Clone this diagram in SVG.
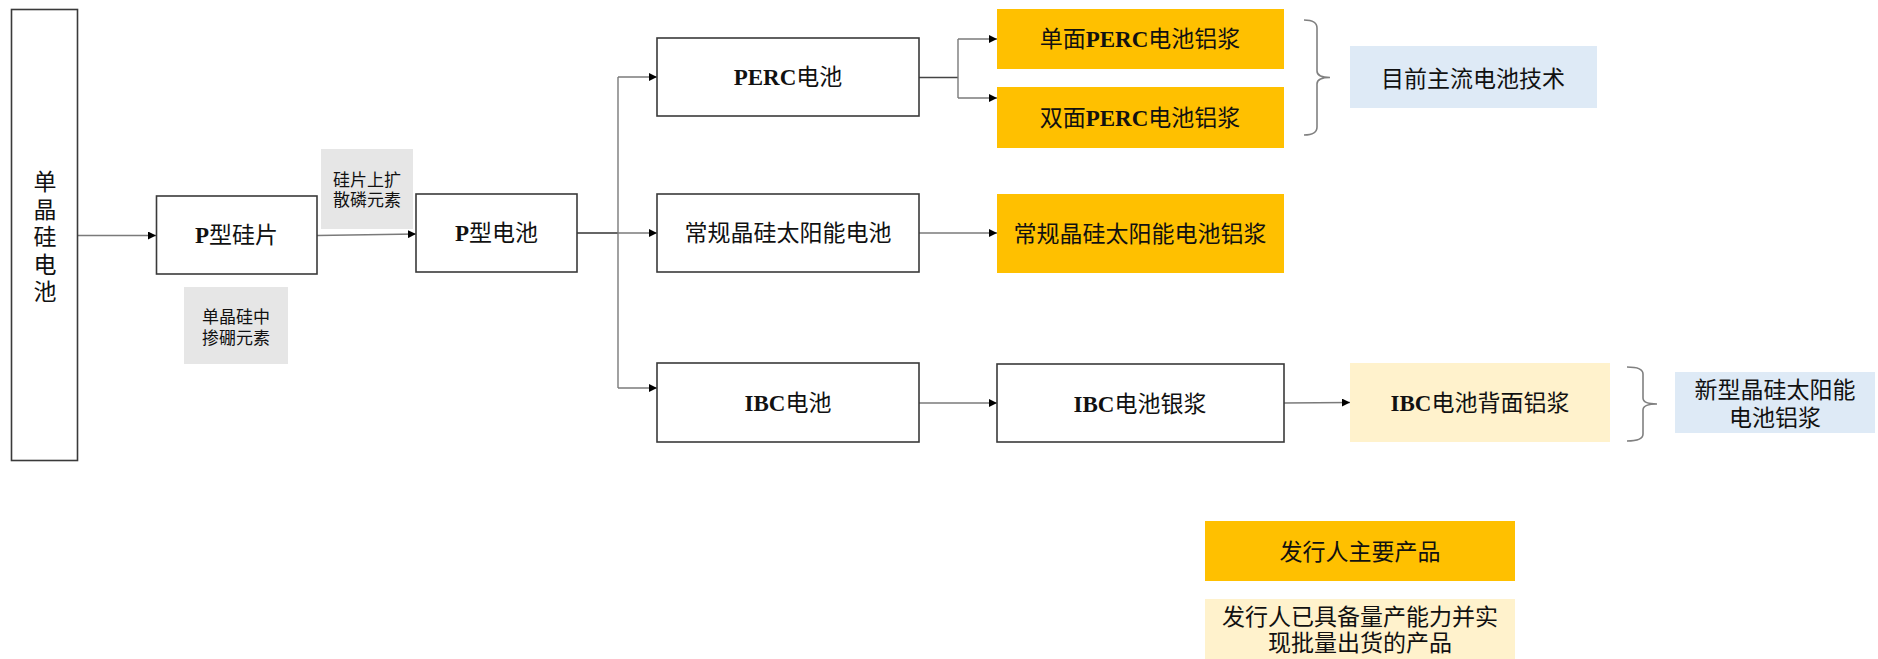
<svg xmlns="http://www.w3.org/2000/svg" width="1878" height="659" viewBox="0 0 1878 659">
<style>
.box{fill:#fff;stroke:#3a3a3a;stroke-width:1.6}
.gray{fill:#e6e6e6}
.yel{fill:#ffc000}
.lyel{fill:#fff2cc}
.blue{fill:#deeaf6}
.t{font-family:"Liberation Serif","Noto Sans CJK SC",serif;font-size:23px;text-anchor:middle;fill:#111}
.s{font-size:17px}
.b{font-weight:bold}
.c{fill:none;stroke:#7a7a7a;stroke-width:1.4}
.ca{fill:none;stroke:#7a7a7a;stroke-width:1.4;marker-end:url(#ah)}
.br{fill:none;stroke:#808080;stroke-width:1.6}
</style>
<defs>
<marker id="ah" viewBox="0 0 10 10" refX="10" refY="5" markerWidth="8" markerHeight="8" markerUnits="userSpaceOnUse" orient="auto">
<path d="M0,0 L10,5 L0,10 z" fill="#000"/>
</marker>
</defs>
<rect width="1878" height="659" fill="#fff"/>
<g id="connectors">
<line class="ca" x1="78" y1="235.5" x2="156" y2="235.5"/>
<line class="ca" x1="317" y1="235.5" x2="416" y2="234"/>
<line class="c" x1="577" y1="233" x2="618" y2="233" style="stroke:#333"/>
<line class="c" x1="618" y1="77" x2="618" y2="388"/>
<line class="ca" x1="618" y1="77" x2="657" y2="77"/>
<line class="ca" x1="618" y1="233" x2="657" y2="233"/>
<line class="ca" x1="618" y1="388" x2="657" y2="388"/>
<line class="c" x1="919" y1="77.5" x2="958" y2="77.5" style="stroke:#444"/>
<line class="c" x1="958" y1="39" x2="958" y2="98"/>
<line class="ca" x1="958" y1="39" x2="997" y2="39"/>
<line class="ca" x1="958" y1="98" x2="997" y2="98"/>
<line class="ca" x1="919" y1="233" x2="997" y2="233"/>
<line class="ca" x1="918" y1="403" x2="997" y2="403"/>
<line class="ca" x1="1284" y1="403" x2="1350" y2="402.5"/>
</g>
<g id="n-mono">
<rect class="box" x="11.5" y="9.5" width="66" height="451"/>
<text class="t"><tspan x="45" y="190">单</tspan><tspan x="45" y="217.5">晶</tspan><tspan x="45" y="245">硅</tspan><tspan x="45" y="272.5">电</tspan><tspan x="45" y="300">池</tspan></text>
</g>
<g id="n-pwafer">
<rect class="box" x="156.5" y="196" width="160.5" height="78"/>
<text class="t" x="236.5" y="243"><tspan class="b">P</tspan>型硅片</text>
</g>
<g id="n-note1">
<rect class="gray" x="321" y="149" width="92" height="80"/>
<text class="t s"><tspan x="367" y="186">硅片上扩</tspan><tspan x="367" y="206">散磷元素</tspan></text>
</g>
<g id="n-note2">
<rect class="gray" x="184" y="287" width="104" height="77"/>
<text class="t s"><tspan x="236" y="323">单晶硅中</tspan><tspan x="236" y="344">掺硼元素</tspan></text>
</g>
<g id="n-pcell">
<rect class="box" x="416" y="194" width="161" height="78"/>
<text class="t" x="496.5" y="241"><tspan class="b">P</tspan>型电池</text>
</g>
<g id="n-perc">
<rect class="box" x="657" y="38" width="262" height="78"/>
<text class="t" x="788" y="85"><tspan class="b">PERC</tspan>电池</text>
</g>
<g id="n-conv">
<rect class="box" x="657" y="194" width="262" height="78"/>
<text class="t" x="788" y="241">常规晶硅太阳能电池</text>
</g>
<g id="n-ibc">
<rect class="box" x="657" y="363" width="262" height="79"/>
<text class="t" x="788" y="411"><tspan class="b">IBC</tspan>电池</text>
</g>
<g id="n-mono-perc">
<rect class="yel" x="997" y="9" width="287" height="60"/>
<text class="t" x="1140" y="47">单面<tspan class="b">PERC</tspan>电池铝浆</text>
</g>
<g id="n-bi-perc">
<rect class="yel" x="997" y="87" width="287" height="61"/>
<text class="t" x="1140" y="126">双面<tspan class="b">PERC</tspan>电池铝浆</text>
</g>
<g id="n-conv-paste">
<rect class="yel" x="997" y="194" width="287" height="79"/>
<text class="t" x="1140" y="242">常规晶硅太阳能电池铝浆</text>
</g>
<g id="n-ibc-silver">
<rect class="box" x="997" y="364" width="287" height="78"/>
<text class="t" x="1140" y="412"><tspan class="b">IBC</tspan>电池银浆</text>
</g>
<g id="n-ibc-back">
<rect class="lyel" x="1350" y="363" width="260" height="79"/>
<text class="t" x="1480" y="411"><tspan class="b">IBC</tspan>电池背面铝浆</text>
</g>
<g id="brace1">
<path class="br" d="M1304,20 Q1317,20 1317,28 L1317,71 Q1317,77.5 1330,77.5 Q1317,77.5 1317,84 L1317,127 Q1317,135 1304,135"/>
</g>
<g id="n-mainstream">
<rect class="blue" x="1350" y="46" width="247" height="62"/>
<text class="t" x="1473" y="87">目前主流电池技术</text>
</g>
<g id="brace2">
<path class="br" d="M1627,367 Q1643,367 1643,374 L1643,398 Q1643,404 1657,404 Q1643,404 1643,410 L1643,434 Q1643,441 1627,441"/>
</g>
<g id="n-new">
<rect class="blue" x="1675" y="372" width="200" height="61"/>
<text class="t"><tspan x="1775" y="398">新型晶硅太阳能</tspan><tspan x="1775" y="426">电池铝浆</tspan></text>
</g>
<g id="legend-main">
<rect class="yel" x="1205" y="521" width="310" height="60"/>
<text class="t" x="1360" y="560">发行人主要产品</text>
</g>
<g id="legend-mass">
<rect class="lyel" x="1205" y="599" width="310" height="60"/>
<text class="t"><tspan x="1360" y="625">发行人已具备量产能力并实</tspan><tspan x="1360" y="651">现批量出货的产品</tspan></text>
</g>
</svg>
